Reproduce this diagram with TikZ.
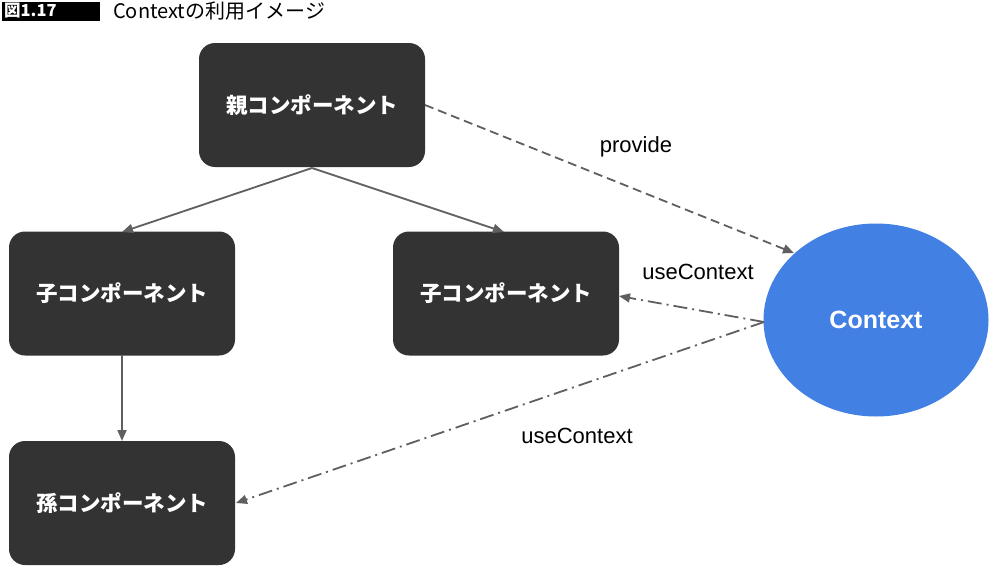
\documentclass[tikz,border=0pt]{standalone}
\usepackage{fontspec}
\setmainfont{Liberation Sans}
\newfontfamily\jpfont{Noto Sans CJK JP}
\usetikzlibrary{arrows.meta,shapes.geometric}
\definecolor{boxgray}{RGB}{51,51,51}
\definecolor{linegray}{RGB}{95,95,95}
\definecolor{ctxblue}{RGB}{66,128,228}
\tikzset{
  compbox/.style={draw=none,fill=boxgray,rounded corners=16pt,minimum width=226pt,minimum height=124pt,text=white,font=\jpfont\bfseries\fontsize{21.5}{25}\selectfont,inner sep=0pt},
  conn/.style={draw=linegray,line width=1.8pt,-{Triangle[length=11pt,width=9pt]}},
  provline/.style={conn,dash pattern=on 9pt off 5pt},
  useline/.style={conn,dash pattern=on 14pt off 5pt on 2pt off 5pt},
  lbl/.style={font=\fontsize{22}{26}\selectfont,text=black,inner sep=0pt}
}
\begin{document}
\begin{tikzpicture}[x=1pt,y=-1pt]
\useasboundingbox (0,0) rectangle (993,570);
% title
\node[fill=black,minimum width=98pt,minimum height=19pt,inner sep=0pt,anchor=west,text=white,font=\jpfont\bfseries\fontsize{16.5}{18}\selectfont,text width=94pt,align=left] (figno) at (2,11) {図1.17};
\node[anchor=west,inner sep=0pt,font=\jpfont\fontsize{20}{22}\selectfont] (title) at (113,11) {Contextの利用イメージ};
% nodes
\node[compbox] (parent) at (312,105) {親コンポーネント};
\node[compbox] (child1) at (122,293.5) {子コンポーネント};
\node[compbox] (child2) at (506,293.5) {子コンポーネント};
\node[compbox] (grand) at (122,503) {孫コンポーネント};
\node[ellipse,fill=ctxblue,minimum width=225pt,minimum height=193pt,inner sep=0pt,text=white,font=\bfseries\fontsize{25}{29}\selectfont] (ctx) at (876,320) {Context};
% coordinates
\coordinate (pb) at (312,168);
\coordinate (c1t) at (122,232);
\coordinate (c2t) at (504,232);
\coordinate (c1b) at (122,355);
\coordinate (gt) at (122,441);
\coordinate (pr) at (425,105);
\coordinate (ctxp) at (794,253);
\coordinate (ctxl) at (764,322);
\coordinate (c2r) at (619,296);
\coordinate (gr) at (236,503);
% connectors
\draw[conn] (pb) -- (c1t);
\draw[conn] (pb) -- (c2t);
\draw[conn] (c1b) -- (gt);
\draw[provline] (pr) -- (ctxp);
\draw[useline] (ctxl) -- (c2r);
\draw[useline] (ctxl) -- (gr);
% labels
\node[lbl] (lprov) at (636,147) {provide};
\node[lbl] (luse1) at (698,272) {useContext};
\node[lbl] (luse2) at (577,436) {useContext};
\end{tikzpicture}
\end{document}
